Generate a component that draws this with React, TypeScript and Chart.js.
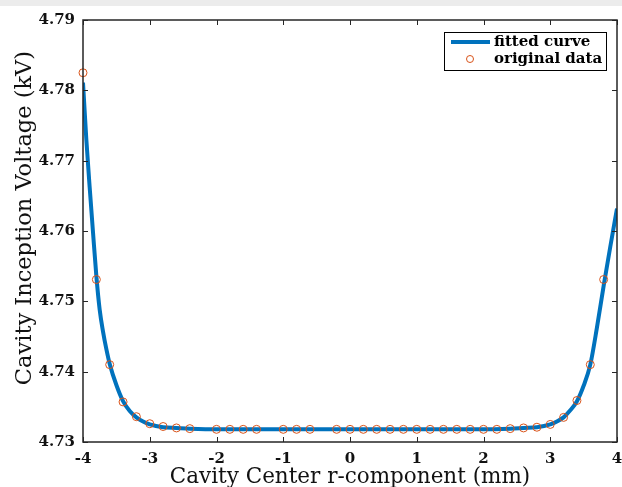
import React, { useEffect, useRef } from "react";
import { Chart, registerables } from "chart.js";

Chart.register(...registerables);

// Original data points (circles)
const dataX = [
  -4, -3.8, -3.6, -3.4, -3.2, -3.0, -2.8, -2.6, -2.4, -2.0, -1.8, -1.6, -1.4,
  -1.0, -0.8, -0.6, -0.2, 0, 0.2, 0.4, 0.6, 0.8, 1.0, 1.2, 1.4, 1.6, 1.8, 2.0,
  2.2, 2.4, 2.6, 2.8, 3.0, 3.2, 3.4, 3.6, 3.8,
];
const dataY = [
  4.7825, 4.7531, 4.741, 4.7357, 4.7336, 4.7326, 4.7322, 4.732, 4.7319, 4.7318,
  4.7318, 4.7318, 4.7318, 4.7318, 4.7318, 4.7318, 4.7318, 4.7318, 4.7318,
  4.7318, 4.7318, 4.7318, 4.7318, 4.7318, 4.7318, 4.7318, 4.7318, 4.7318,
  4.7318, 4.7319, 4.732, 4.7321, 4.7325, 4.7335, 4.7359, 4.741, 4.7531,
];

// Fitted curve
const curveX = [
  -4, -3.95, -3.9, -3.85, -3.8, -3.75, -3.7, -3.65, -3.6, -3.5, -3.4, -3.3,
  -3.2, -3.1, -3.0, -2.8, -2.6, -2.4, -2.0, -1.0, 0, 1.0, 2.0, 2.4, 2.6, 2.8,
  3.0, 3.1, 3.2, 3.3, 3.4, 3.5, 3.6, 3.7, 3.8, 3.9, 4.0,
];
const curveY = [
  4.7811, 4.7730, 4.7662, 4.7598, 4.7536, 4.7488, 4.7457, 4.7432, 4.7411,
  4.7381, 4.7358, 4.7344, 4.7335, 4.7329, 4.7325, 4.7321, 4.732, 4.7319,
  4.7318, 4.7318, 4.7318, 4.7318, 4.7318, 4.7319, 4.732, 4.7321, 4.7325,
  4.7329, 4.7335, 4.7345, 4.7358, 4.738, 4.741, 4.7463, 4.7522, 4.7578,
  4.7632,
];

const xTicks = [-4, -3, -2, -1, 0, 1, 2, 3, 4];
const yTicks = [4.73, 4.74, 4.75, 4.76, 4.77, 4.78, 4.79];

const seriesNames = ["fitted curve", "original data"];
const xTitle = "Cavity Center r-component (mm)";
const yTitle = "Cavity Inception Voltage (kV)";

const BLUE = "#0072BD";
const ORANGE = "#D95319";
const AXIS = "#262626";
const FONT = "'DejaVu Serif', serif";

const decorPlugin = {
  id: "decor",
  beforeDraw(chart: any) {
    const { ctx, width } = chart;
    ctx.save();
    ctx.fillStyle = "#ececec";
    ctx.fillRect(0, 0, width, 6);
    ctx.restore();
  },
  afterDraw(chart: any) {
    const { ctx, chartArea: a, scales } = chart;
    ctx.save();
    // ticks inward on all sides
    ctx.strokeStyle = AXIS;
    ctx.lineWidth = 1;
    const tl = 5;
    xTicks.forEach((v) => {
      const px = Math.round(scales.x.getPixelForValue(v)) + 0.5;
      ctx.beginPath();
      ctx.moveTo(px, a.bottom);
      ctx.lineTo(px, a.bottom - tl);
      ctx.moveTo(px, a.top);
      ctx.lineTo(px, a.top + tl);
      ctx.stroke();
    });
    yTicks.forEach((v) => {
      const py = Math.round(scales.y.getPixelForValue(v)) + 0.5;
      ctx.beginPath();
      ctx.moveTo(a.left, py);
      ctx.lineTo(a.left + tl, py);
      ctx.moveTo(a.right, py);
      ctx.lineTo(a.right - tl, py);
      ctx.stroke();
    });
    // frame
    ctx.lineWidth = 1.5;
    ctx.strokeRect(a.left, a.top, a.right - a.left, a.bottom - a.top);

    // axis titles
    ctx.fillStyle = "#111";
    ctx.font = `21.5px ${FONT}`;
    ctx.textAlign = "center";
    ctx.textBaseline = "middle";
    ctx.fillText(xTitle, (a.left + a.right) / 2, 477);
    ctx.save();
    ctx.translate(25, 218);
    ctx.rotate(-Math.PI / 2);
    ctx.font = `22.5px ${FONT}`;
    ctx.fillText(yTitle, 0, 0);
    ctx.restore();

    // legend
    const bx = a.right - 173;
    const by = a.top + 12;
    const bw = 162;
    const bh = 38;
    ctx.fillStyle = "#fff";
    ctx.fillRect(bx, by, bw, bh);
    ctx.strokeStyle = "#000";
    ctx.lineWidth = 1;
    ctx.strokeRect(bx + 0.5, by + 0.5, bw, bh);
    ctx.strokeStyle = BLUE;
    ctx.lineWidth = 4;
    ctx.beginPath();
    ctx.moveTo(bx + 7, by + 10);
    ctx.lineTo(bx + 46, by + 10);
    ctx.stroke();
    ctx.strokeStyle = ORANGE;
    ctx.lineWidth = 1;
    ctx.beginPath();
    ctx.arc(bx + 26, by + 27, 3.5, 0, Math.PI * 2);
    ctx.stroke();
    ctx.fillStyle = "#000";
    ctx.font = `bold 15px ${FONT}`;
    ctx.textAlign = "left";
    ctx.textBaseline = "middle";
    ctx.fillText(seriesNames[0], bx + 50, by + 10);
    ctx.fillText(seriesNames[1], bx + 50, by + 27);
    ctx.restore();
  },
};

export default function App() {
  const ref = useRef<HTMLCanvasElement | null>(null);
  useEffect(() => {
    if (!ref.current) return;
    const chart = new Chart(ref.current, {
      type: "scatter",
      data: {
        datasets: [
          {
            label: seriesNames[1],
            data: dataX.map((x, i) => ({ x, y: dataY[i] })),
            showLine: false,
            pointStyle: "circle",
            pointRadius: 4,
            pointBorderColor: ORANGE,
            pointBackgroundColor: "rgba(0,0,0,0)",
            pointBorderWidth: 1,
            clip: false,
          },
          {
            label: seriesNames[0],
            data: curveX.map((x, i) => ({ x, y: curveY[i] })),
            showLine: true,
            borderColor: BLUE,
            borderWidth: 4,
            pointRadius: 0,
            cubicInterpolationMode: "monotone",
          },
        ],
      },
      options: {
        animation: false,
        responsive: false,
        events: [],
        layout: { padding: { top: 20, right: 5, left: 0, bottom: 0 } },
        plugins: {
          legend: { display: false },
          tooltip: { enabled: false },
        },
        scales: {
          x: {
            type: "linear",
            min: -4,
            max: 4,
            afterBuildTicks: (s: any) => {
              s.ticks = xTicks.map((v) => ({ value: v }));
            },
            afterFit: (s: any) => {
              s.height = 45;
              s.paddingLeft = 0;
              s.paddingRight = 0;
            },
            grid: { display: false, drawTicks: false },
            border: { display: false },
            ticks: {
              padding: 8,
              color: "#111",
              font: { family: FONT, size: 15, weight: "bold" },
              callback: (v: any) => String(v),
            },
          },
          y: {
            type: "linear",
            min: 4.73,
            max: 4.79,
            afterBuildTicks: (s: any) => {
              s.ticks = yTicks.map((v) => ({ value: v }));
            },
            afterFit: (s: any) => {
              s.width = 83;
              s.paddingTop = 0;
              s.paddingBottom = 0;
            },
            grid: { display: false, drawTicks: false },
            border: { display: false },
            ticks: {
              padding: 8,
              color: "#111",
              font: { family: FONT, size: 15, weight: "bold" },
              callback: (v: any) => Number(v).toFixed(2),
            },
          },
        },
      },
      plugins: [decorPlugin],
    } as any);
    return () => chart.destroy();
  }, []);
  return (
    <div style={{ position: "absolute", left: 0, top: 0, width: 622, height: 487, background: "#fff" }}>
      <canvas ref={ref} width={622} height={487} style={{ display: "block" }} />
    </div>
  );
}
